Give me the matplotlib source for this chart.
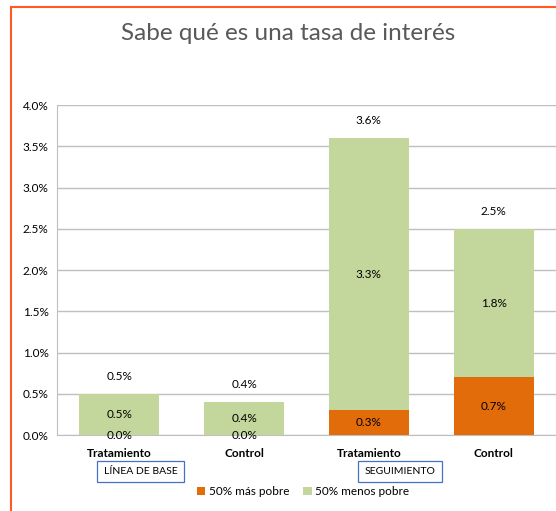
import numpy as np
import matplotlib.pyplot as plt
import matplotlib.transforms as mtrans
from matplotlib.patches import Rectangle

# DATA
categorias = ["Tratamiento", "Control", "Tratamiento", "Control"]
mas_pobre = [0.0, 0.0, 0.3, 0.7]
menos_pobre = [0.5, 0.4, 3.3, 1.8]
totales = [0.5, 0.4, 3.6, 2.5]
grupos = ["LÍNEA DE BASE", "SEGUIMIENTO"]
grupo_pos = [0.17, 2.25]
yticks = [0.0, 0.5, 1.0, 1.5, 2.0, 2.5, 3.0, 3.5, 4.0]

plt.rcParams['font.family'] = ['Lato', 'DejaVu Sans']

fig = plt.figure(figsize=(5.56, 5.11), dpi=100)
ax = fig.add_axes([0.1025, 0.1487, 0.8975, 0.6458])

x = np.arange(len(categorias))
b1 = ax.bar(x, mas_pobre, width=0.64, color='#E36C0A', zorder=3, label='50% más pobre')
b2 = ax.bar(x, menos_pobre, width=0.64, bottom=mas_pobre, color='#C3D69B', zorder=3,
            label='50% menos pobre')

# DATA LABELS
for i in range(len(x)):
    ax.text(x[i], mas_pobre[i] / 2, f"{mas_pobre[i]:.1f}%", ha='center', va='center',
            fontsize=8.5, zorder=4)
    ax.text(x[i], mas_pobre[i] + menos_pobre[i] / 2, f"{menos_pobre[i]:.1f}%",
            ha='center', va='center', fontsize=8.5, zorder=4)
    ax.annotate(f"{totales[i]:.1f}%", (x[i], totales[i]), xytext=(0, 12.5),
                textcoords='offset points', ha='center', va='center', fontsize=8.5)

ax.set_xlim(-0.5, 3.5)
ax.set_ylim(0, 4.0)
ax.set_yticks(yticks)
ax.set_yticklabels([f"{v:.1f}%" for v in yticks], fontsize=8.5)
ax.set_xticks(x)
ax.set_xticklabels(categorias, fontsize=8.5, fontweight='bold')
ax.tick_params(axis='y', length=0, pad=6)
ax.tick_params(axis='x', length=0, pad=9)
ax.yaxis.grid(True, color='#BFBFBF', linewidth=1, zorder=0)
for s in ['top', 'right']:
    ax.spines[s].set_visible(False)
ax.spines['left'].set_color('#BFBFBF')
ax.spines['bottom'].set_color('#BFBFBF')

# GROUP LABELS
trans = mtrans.blended_transform_factory(ax.transData, fig.transFigure)
for g, p in zip(grupos, grupo_pos):
    ax.text(p, 0.077, g, transform=trans, ha='center', va='center', fontsize=7.5,
            bbox=dict(boxstyle='square,pad=0.6', facecolor='white', edgecolor='#4472C4',
                      linewidth=0.9))

fig.suptitle("Sabe qué es una tasa de interés", x=0.518, y=0.955, fontsize=17.5,
             color='#595959')

fig.legend(handles=[b1, b2], loc='center', bbox_to_anchor=(0.545, 0.038), ncol=2,
           frameon=False, fontsize=8.5, handlelength=0.7, handleheight=0.7,
           handletextpad=0.3, columnspacing=1.2)

# ORANGE BORDER
fig.patches.append(Rectangle((0.019, -0.1), 1.2, 1.087, transform=fig.transFigure,
                             fill=False, edgecolor='#FF5A1F', linewidth=1.5))

plt.savefig('out.png', dpi=100)
